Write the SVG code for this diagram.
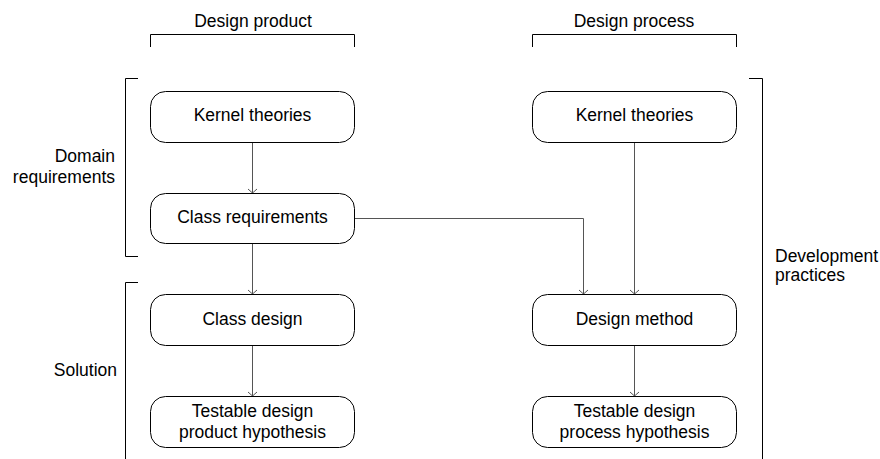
<svg xmlns="http://www.w3.org/2000/svg" width="880" height="459" viewBox="0 0 880 459">
<style>
text{font-family:"Liberation Sans",Arial,sans-serif;font-size:17.5px;fill:#000}
.c{text-anchor:middle}
.r{text-anchor:end}
.box{fill:#fff;stroke:#000;stroke-width:1}
.br{fill:none;stroke:#000;stroke-width:1}
.ed{fill:none;stroke:#555;stroke-width:1}
</style>
<defs>
<marker id="ah" markerWidth="10" markerHeight="10" refX="5" refY="5" orient="auto" markerUnits="userSpaceOnUse">
<path d="M1,0.5 L5,5 L1,9.5" fill="none" stroke="#555" stroke-width="1"/>
</marker>
</defs>
<g id="brackets">
<path class="br" d="M150.5,47 V34.5 H354.5 V47"/>
<text class="c" x="253" y="27">Design product</text>
<path class="br" d="M532.5,47 V34.5 H736.5 V47"/>
<text class="c" x="634" y="27">Design process</text>
<path class="br" d="M138,78.5 H125.5 V256.5 H138"/>
<text class="r" x="115" y="162">Domain</text>
<text class="r" x="115" y="182.5">requirements</text>
<path class="br" d="M138,282.5 H125.5 V459"/>
<text class="r" x="117" y="376">Solution</text>
<path class="br" d="M749,78.5 H762.5 V459"/>
<text x="775" y="261.5">Development</text>
<text x="775" y="281">practices</text>
</g>
<g id="connectors">
<path class="ed" d="M252.5,142 V193" marker-end="url(#ah)"/>
<path class="ed" d="M252.5,243 V294" marker-end="url(#ah)"/>
<path class="ed" d="M252.5,345 V396" marker-end="url(#ah)"/>
<path class="ed" d="M354,218.5 H583.5 V294" marker-end="url(#ah)"/>
<path class="ed" d="M634.5,142 V294" marker-end="url(#ah)"/>
<path class="ed" d="M634.5,345 V396" marker-end="url(#ah)"/>
</g>
<g id="kt1"><rect class="box" x="150.5" y="91.5" width="204" height="51" rx="15"/><text class="c" x="252.5" y="121">Kernel theories</text></g>
<g id="cr"><rect class="box" x="150.5" y="193.5" width="204" height="50" rx="15"/><text class="c" x="252.5" y="223">Class requirements</text></g>
<g id="cd"><rect class="box" x="150.5" y="294.5" width="204" height="51" rx="15"/><text class="c" x="252.5" y="325">Class design</text></g>
<g id="tdp"><rect class="box" x="150.5" y="396.5" width="204" height="51" rx="15"/><text class="c" x="252.5" y="417">Testable design</text><text class="c" x="252.5" y="438">product hypothesis</text></g>
<g id="kt2"><rect class="box" x="532.5" y="91.5" width="204" height="51" rx="15"/><text class="c" x="634.5" y="121">Kernel theories</text></g>
<g id="dm"><rect class="box" x="532.5" y="294.5" width="204" height="51" rx="15"/><text class="c" x="634.5" y="325">Design method</text></g>
<g id="tdpr"><rect class="box" x="532.5" y="396.5" width="204" height="51" rx="15"/><text class="c" x="634.5" y="417">Testable design</text><text class="c" x="634.5" y="438">process hypothesis</text></g>
</svg>
